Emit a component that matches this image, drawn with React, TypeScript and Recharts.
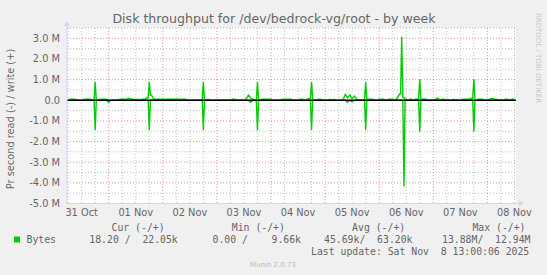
import React from "react";
import { ComposedChart, Line, XAxis, YAxis, CartesianGrid, ReferenceLine } from "recharts";

// hourly samples, first sample = 31 Oct 06:00 (hours counted from 31 Oct 00:00)
const START_HOUR = 6;

// write throughput (MB/s), plotted positive
const writeMBps = [
  0.02, 0.05, 0.05, 0.05, 0.02, 0, 0, 0.05, 0.05, 0.05, // h6
  0.05, 0, 0.9, 0, 0.05, 0.05, 0.05, 0.05, 0, 0, // h16
  0, 0, 0.02, 0.05, 0.05, 0.05, 0.05, 0.1, 0.05, 0.05, // h26
  0.03, 0.05, 0.02, 0.05, 0.05, 0.12, 0.9, 0.25, 0.05, 0.05, // h36
  0.05, 0.05, 0.05, 0.05, 0.05, 0.05, 0.05, 0.05, 0.05, 0.05, // h46
  0.05, 0.05, 0.05, 0, 0, 0, 0, 0, 0, 0.02, // h56
  0.9, 0, 0.05, 0.02, 0, 0, 0, 0, 0, 0, // h66
  0, 0, 0, 0.05, 0.05, 0, 0, 0, 0.02, 0.06, // h76
  0.25, 0.1, 0.05, 0, 0.9, 0, 0.05, 0.05, 0.05, 0.05, // h86
  0.05, 0, 0, 0, 0, 0.05, 0.05, 0.05, 0.05, 0.05, // h96
  0, 0, 0, 0.05, 0.05, 0, 0.05, 0.08, 0.9, 0, // h106
  0, 0.05, 0.05, 0, 0, 0, 0.05, 0, 0.05, 0, // h116
  0, 0, 0.03, 0.28, 0.12, 0.26, 0.08, 0.2, 0.05, 0, // h126
  0, 0, 0.9, 0.05, 0.05, 0.05, 0, 0, 0.05, 0.05, // h136
  0.05, 0, 0.05, 0.05, 0.05, 0, 0.1, 0.3, 3.08, 0.13, // h146
  0.05, 0, 0.07, 0, 0.05, 0.05, 1.02, 0.05, 0.05, 0.05, // h156
  0, 0, 0, 0.05, 0.1, 0, 0.05, 0.05, 0, 0, // h166
  0, 0.05, 0, 0, 0, 0.05, 0.05, 0.05, 0.05, 0.1, // h176
  1.02, 0, 0.05, 0.05, 0.05, 0, 0, 0.05, 0.1, 0.05, // h186
  0.05, 0, 0, 0, 0.05, 0.05, 0, 0.05, 0.05, // h196
];

// read throughput (MB/s), plotted negative
const readMBps = [
  0, 0, 0, 0, 0, 0, 0, 0, 0, 0, // h6
  0, 0, 1.44, 0, 0, 0, 0, 0, 0.1, 0, // h16
  0, 0, 0, 0, 0, 0, 0, 0, 0, 0, // h26
  0, 0, 0, 0, 0, 0, 1.44, 0, 0, 0, // h36
  0, 0, 0, 0, 0, 0, 0, 0, 0, 0, // h46
  0, 0, 0, 0, 0, 0, 0, 0, 0, 0, // h56
  1.44, 0, 0, 0, 0, 0, 0, 0, 0, 0, // h66
  0, 0, 0, 0, 0, 0, 0, 0, 0, 0, // h76
  0, 0.1, 0, 0, 1.44, 0, 0, 0, 0, 0, // h86
  0, 0, 0, 0, 0, 0, 0, 0, 0, 0, // h96
  0, 0, 0, 0, 0, 0, 0, 0, 1.44, 0, // h106
  0, 0, 0, 0, 0, 0, 0, 0, 0, 0, // h116
  0, 0, 0, 0, 0.1, 0, 0.08, 0, 0, 0, // h126
  0, 0, 1.44, 0, 0, 0, 0, 0, 0, 0, // h136
  0, 0, 0, 0, 0, 0, 0, 0, 0, 4.18, // h146
  0, 0, 0, 0, 0, 0, 1.52, 0, 0, 0, // h156
  0, 0, 0, 0, 0, 0, 0, 0, 0, 0, // h166
  0, 0, 0, 0, 0, 0, 0, 0, 0, 0, // h176
  1.52, 0, 0, 0, 0, 0, 0, 0, 0, 0, // h186
  0, 0, 0, 0, 0, 0, 0, 0, 0, // h196
];

// extra half-hour samples read beside the daily spikes (they keep the spikes narrow)
const extraHours = [17.5, 18.5, 41.5, 42.5, 65.5, 66.5, 89.5, 90.5, 113.5, 114.5, 137.5, 138.5, 153.5, 154.5, 155.5, 161.5, 162.5, 185.5, 186.5];
const extraWrite = [0, 0, 0.12, 0.25, 0.02, 0, 0, 0, 0.08, 0, 0, 0.05, 0.3, 0.13, 0.05, 0.05, 0.05, 0.1, 0];
const extraRead = [0, 0, 0, 0, 0, 0, 0, 0, 0, 0, 0, 0, 0, 0, 0, 0, 0, 0, 0];

const dayLabels = ["31 Oct", "01 Nov", "02 Nov", "03 Nov", "04 Nov", "05 Nov", "06 Nov", "07 Nov", "08 Nov"];
const dayLabelHours = [12, 36, 60, 84, 108, 132, 156, 180, 204];
const majorHours = [24, 48, 72, 96, 120, 144, 168, 192];
const minorHours = [6, 12, 18, 30, 36, 42, 54, 60, 66, 78, 84, 90, 102, 108, 114, 126, 132, 138, 150, 156, 162, 174, 180, 186, 198, 204];
const yTicks = [-5, -4, -3, -2, -1, 0, 1, 2, 3];
const majorY = [-4, -3, -2, -1, 1, 2, 3];
const minorY = [-4.5, -3.5, -2.5, -1.5, -0.5, 0.5, 1.5, 2.5, 3.5];

const legendHeaders = ["Cur (-/+)", "Min (-/+)", "Avg (-/+)", "Max (-/+)"];
const legendValues = ["18.20 /  22.05k", "0.00 /    9.66k", "45.69k/  63.20k", "13.88M/  12.94M"];
const seriesName = "Bytes";
const lastUpdate = "Last update: Sat Nov  8 13:00:06 2025";

const data = [
  ...writeMBps.map((w, i) => ({ h: START_HOUR + i, write: w, read: -readMBps[i] })),
  ...extraHours.map((h, i) => ({ h, write: extraWrite[i], read: -extraRead[i] })),
].sort((a, b) => a.h - b.h);

const SANS = "'DejaVu Sans', sans-serif";
const MONO = "'DejaVu Sans Mono', monospace";
const FONT = "#666666";
const AXIS = "#cfd6f8";
const LEGEND_X = [89.3, 212.5, 324, 442];

export default function App() {
  return (
    <div style={{ position: "absolute", left: 0, top: 0, width: 547, height: 275, background: "#f0f0f0" }}>
      <ComposedChart width={547} height={275} data={data} margin={{ top: 28, right: 31, bottom: 51.5, left: 0 }}>
        <CartesianGrid fill="#ffffff" stroke="#8f8f8f" strokeOpacity={0.55} strokeDasharray="1 2"
          horizontalValues={minorY} verticalValues={minorHours} />
        <CartesianGrid stroke="#de3030" strokeOpacity={0.5} strokeDasharray="1 2"
          horizontalValues={majorY} verticalValues={majorHours} />
        <XAxis type="number" dataKey="h" domain={[5.5, 204.7]} allowDataOverflow ticks={dayLabelHours} interval={0}
          tickFormatter={(v: number) => dayLabels[dayLabelHours.indexOf(v)] ?? ""}
          height={20} tickSize={4} tickLine={false} axisLine={{ stroke: AXIS }}
          tick={{ fill: FONT, fontSize: 9.8, fontFamily: SANS }} />
        <YAxis type="number" domain={[-5, 3.5]} allowDataOverflow ticks={yTicks} interval={0} width={67}
          tickFormatter={(v: number) => (v === 0 ? "0.0" : `${v.toFixed(1)} M`)}
          tickSize={5} tickLine={false} axisLine={{ stroke: AXIS }}
          tick={{ fill: FONT, fontSize: 9.8, fontFamily: SANS }} />
        <Line type="linear" dataKey="write" stroke="#00cc00" strokeWidth={1.4} dot={false} isAnimationActive={false} />
        <Line type="linear" dataKey="read" stroke="#00cc00" strokeWidth={1.4} dot={false} isAnimationActive={false} />
        <ReferenceLine y={0} stroke="#000000" strokeWidth={1.5} />
      </ComposedChart>
      <svg width={547} height={275} style={{ position: "absolute", left: 0, top: 0, pointerEvents: "none" }}>
        <text x={274} y={23} textAnchor="middle" fontFamily={SANS} fontSize={12.6} fill={FONT}>
          Disk throughput for /dev/bedrock-vg/root - by week
        </text>
        <text transform="translate(13.5,119) rotate(-90)" textAnchor="middle" fontFamily={SANS} fontSize={9.8} fill={FONT}>
          Pr second read (-) / write (+)
        </text>
        <text transform="translate(536,58) rotate(90)" textAnchor="middle" fontFamily={SANS} fontSize={7} fill="#c8c8c8">
          RRDTOOL / TOBI OETIKER
        </text>
        <line x1={67} y1={28} x2={67} y2={23} stroke={AXIS} />
        <polygon points="64,26 70,26 67,21" fill={AXIS} />
        <line x1={516} y1={203.5} x2={521} y2={203.5} stroke={AXIS} />
        <polygon points="519,200.5 519,206.5 524,203.5" fill={AXIS} />
        {legendHeaders.map((t, i) => (
          <text key={t} x={111.5 + i * 120.3} y={231} fontFamily={MONO} fontSize={9.8} fill={FONT} style={{ whiteSpace: "pre" }} xmlSpace="preserve">{t}</text>
        ))}
        <rect x={14} y={236.5} width={6} height={6} fill="#00cc00" />
        <text x={26.5} y={243} fontFamily={MONO} fontSize={9.8} fill={FONT}>{seriesName}</text>
        {legendValues.map((t, i) => (
          <text key={t} x={LEGEND_X[i]} y={243} fontFamily={MONO} fontSize={9.8} fill={FONT} style={{ whiteSpace: "pre" }} xmlSpace="preserve">{t}</text>
        ))}
        <text x={311} y={255} fontFamily={MONO} fontSize={9.8} fill={FONT} style={{ whiteSpace: "pre" }} xmlSpace="preserve">{lastUpdate}</text>
        <text x={273} y={267} textAnchor="middle" fontFamily={SANS} fontSize={7} fill="#bbbbbb">Munin 2.0.73</text>
      </svg>
    </div>
  );
}
